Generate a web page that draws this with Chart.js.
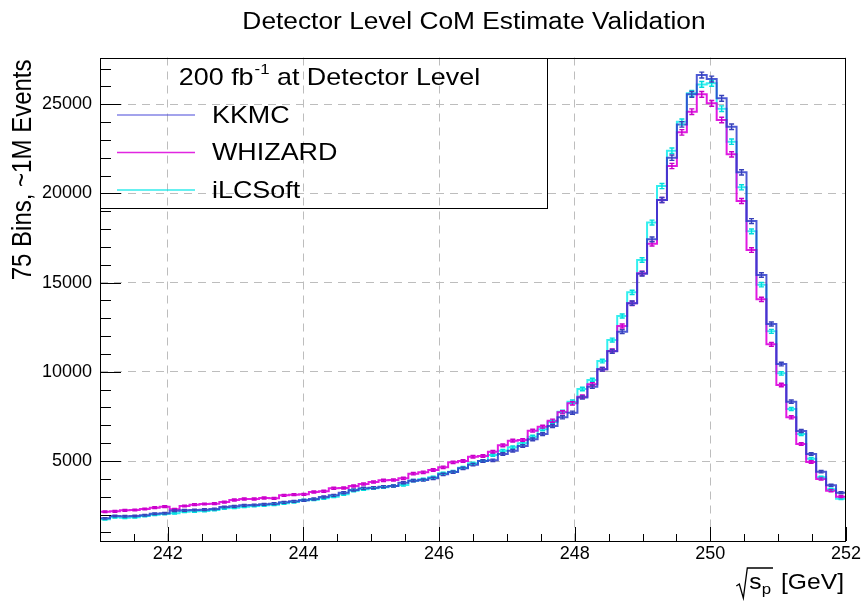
<!DOCTYPE html>
<html><head><meta charset="utf-8">
<script src="https://cdn.jsdelivr.net/npm/chart.js@4.4.1/dist/chart.umd.min.js"></script>
<style>html,body{margin:0;padding:0;background:#fff}#wrap{width:863px;height:601px}</style>
</head><body><div id="wrap"><canvas id="c" width="863" height="601"></canvas></div>
<script>
// ---- binning ----
const X_MIN = 241, X_MAX = 252, N_BINS = 75;
const Y_MIN = 516, Y_MAX = 27620;
// ---- texts ----
const titleText = 'Detector Level CoM Estimate Validation';
const yTitleText = '75 Bins, ~1M Events';
const legendHeader = ['200 fb', '-1', ' at Detector Level'];
const seriesNames = ['KKMC', 'WHIZARD', 'iLCSoft'];
// ---- tick labels ----
const xTickValues = [242, 244, 246, 248, 250, 252];
const yTickValues = [5000, 10000, 15000, 20000, 25000];
// ---- series values (bin contents, 75 bins) ----
const kkmc = [1786,1917,1898,1917,1954,2048,2066,2216,2235,2253,2272,2309,2421,2459,2515,2534,2571,2608,2683,2739,
  2795,2870,2982,3076,3225,3380,3468,3505,3561,3598,3785,3897,3935,4028,4252,4383,4589,4794,5000,5037,
  5392,5579,5841,6215,6513,6962,7447,7709,8560,9167,10150,11150,12250,13850,15500,17427,19630,22003,23871,25553,
  26637,26413,25329,23741,21181,18453,15426,12679,10437,8326,6682,5392,4402,3636,3225];
const whizard = [2160,2178,2234,2253,2309,2384,2440,2291,2478,2552,2590,2609,2702,2814,2870,2870,2926,2907,3075,3113,
  3132,3262,3300,3468,3486,3598,3711,3823,3916,3935,4028,4290,4365,4496,4645,4925,5000,5243,5280,5523,
  5878,6140,6177,6700,6924,7261,7728,8234,8606,9298,10138,11170,12567,13839,15521,17180,19630,21536,23424,24581,
  25553,25049,24114,22190,19574,16827,14062,11540,9260,7448,5953,4944,3991,3337,3001];
const ilcsoft = [1730,1842,1823,1842,1917,1992,2029,2066,2160,2178,2197,2253,2347,2384,2440,2478,2515,2552,2627,2702,
  2800,2833,2907,3001,3132,3337,3412,3468,3524,3598,3655,3897,3972,4084,4308,4402,4626,4869,5000,5336,
  5579,5766,5990,6364,6775,7186,7765,8326,9036,9540,10605,11782,13128,14456,16267,18370,20415,22395,24021,25609,
  26113,26170,24750,22900,20340,17874,14884,12268,9914,7915,6513,5131,4085,3412,2889];

const seriesValues = [kkmc, whizard, ilcsoft];
const lineColors = ['rgba(45,60,205,0.85)', 'rgba(222,0,222,0.9)', 'rgba(0,235,235,0.8)'];
const barColors = ['rgba(55,65,185,1)', 'rgba(200,0,200,1)', 'rgba(0,220,220,1)'];
const legendColors = ['rgba(80,80,220,0.7)', 'rgba(220,0,220,0.85)', 'rgba(0,230,230,0.8)'];

const FONT = '"Liberation Sans", Arial, Helvetica, sans-serif';
const SX = 1.12; // horizontal stretch of the reference's lettering
const binW = (X_MAX - X_MIN) / N_BINS;

function stepData(vals) {
  const pts = vals.map((v, i) => ({ x: X_MIN + i * binW, y: v }));
  pts.push({ x: X_MAX, y: vals[vals.length - 1] });
  return pts;
}

function txt(ctx, s, x, y, size, align, sx) {
  ctx.save();
  ctx.font = size + 'px ' + FONT;
  ctx.textAlign = align || 'left';
  ctx.textBaseline = 'alphabetic';
  ctx.fillStyle = '#000';
  ctx.translate(x, y);
  ctx.scale(sx || SX, 1);
  ctx.fillText(s, 0, 0);
  ctx.restore();
}
function tw(ctx, s, size, sx) {
  ctx.save(); ctx.font = size + 'px ' + FONT;
  const w = ctx.measureText(s).width * (sx || SX);
  ctx.restore(); return w;
}

const errorBars = {
  id: 'errorBars',
  afterDatasetsDraw(chart) {
    const ctx = chart.ctx, xs = chart.scales.x, ys = chart.scales.y, a = chart.chartArea;
    ctx.save();
    ctx.beginPath(); ctx.rect(a.left, a.top, a.right - a.left, a.bottom - a.top); ctx.clip();
    for (let d = seriesValues.length - 1; d >= 0; d--) {
      const vals = seriesValues[d];
      ctx.strokeStyle = barColors[d];
      ctx.lineWidth = 1.4;
      vals.forEach((v, i) => {
        const e = Math.sqrt(v);
        const xc = xs.getPixelForValue(X_MIN + (i + 0.5) * binW);
        const y1 = ys.getPixelForValue(v + e), y2 = ys.getPixelForValue(v - e);
        ctx.beginPath();
        ctx.moveTo(xc, y1); ctx.lineTo(xc, y2);
        ctx.moveTo(xc - 2.5, y1); ctx.lineTo(xc + 2.5, y1);
        ctx.moveTo(xc - 2.5, y2); ctx.lineTo(xc + 2.5, y2);
        ctx.stroke();
      });
    }
    ctx.restore();
  }
};

const decorations = {
  id: 'decorations',
  afterDraw(chart) {
    const ctx = chart.ctx, xs = chart.scales.x, ys = chart.scales.y, a = chart.chartArea;
    ctx.save();
    // frame
    ctx.strokeStyle = '#000'; ctx.lineWidth = 1;
    ctx.strokeRect(Math.round(a.left) + 0.5, Math.round(a.top) + 0.5, Math.round(a.right - a.left) - 1, Math.round(a.bottom - a.top) - 1);
    // ticks (inside), x axis
    ctx.beginPath();
    for (let k = Math.ceil(X_MIN * 2); k <= X_MAX * 2; k++) {
      const v = k / 2;
      const px = Math.round(xs.getPixelForValue(v)) + 0.5;
      const len = (k % 4 === 0) ? 14 : 7;
      ctx.moveTo(px, a.bottom); ctx.lineTo(px, a.bottom - len);
    }
    // y axis ticks
    for (let v = 1000; v <= Y_MAX; v += 1000) {
      if (v < Y_MIN) continue;
      const py = Math.round(ys.getPixelForValue(v)) + 0.5;
      const len = (v % 5000 === 0) ? 21 : 11;
      ctx.moveTo(a.left, py); ctx.lineTo(a.left + len, py);
    }
    ctx.stroke();

    // title
    txt(ctx, titleText, (a.left + a.right) / 2 + 1, 29, 23.5, 'center');

    // y-axis title (rotated)
    ctx.save();
    ctx.translate(31, a.top + 2);
    ctx.rotate(-Math.PI / 2);
    ctx.scale(1, SX);
    ctx.font = '24px ' + FONT; ctx.textAlign = 'right'; ctx.fillStyle = '#000';
    ctx.fillText(yTitleText, 0, 0);
    ctx.restore();

    // x-axis title: sqrt(s_p) [GeV]
    const fs = 22, xr = a.right - 2, base = 589;
    const wG = tw(ctx, '[GeV]', fs);
    txt(ctx, '[GeV]', xr, base, fs, 'right');
    const pR = xr - wG - 10;
    const wP = tw(ctx, 'p', 15);
    txt(ctx, 'p', pR, base + 5, 15, 'right');
    const sR = pR - wP;
    const wS = tw(ctx, 's', fs);
    txt(ctx, 's', sR, base, fs, 'right');
    const sL = sR - wS;
    ctx.beginPath(); ctx.lineWidth = 1.3; ctx.strokeStyle = '#000';
    ctx.moveTo(sL - 13, 586); ctx.lineTo(sL - 10, 584);
    ctx.lineTo(sL - 6, 598); ctx.lineTo(sL - 2, 568);
    ctx.lineTo(pR + 2, 568);
    ctx.stroke();

    // legend (transparent box)
    const L = { x1: a.left, y1: a.top, x2: 547.5, y2: 208.5 };
    ctx.strokeStyle = '#000'; ctx.lineWidth = 1;
    ctx.strokeRect(Math.round(L.x1) + 0.5, Math.round(L.y1) + 0.5, L.x2 - Math.round(L.x1) - 0.5, L.y2 - Math.round(L.y1) - 0.5);
    const hs = 24;
    const w0 = tw(ctx, legendHeader[0], hs), w1 = tw(ctx, legendHeader[1], 15), w2 = tw(ctx, legendHeader[2], hs);
    let hx = 329 - (w0 + w1 + w2) / 2;
    txt(ctx, legendHeader[0], hx, 85, hs, 'left'); hx += w0 + 1;
    txt(ctx, legendHeader[1], hx, 74, 15, 'left'); hx += w1;
    txt(ctx, legendHeader[2], hx, 85, hs, 'left');
    const rows = [115, 152.5, 190];
    seriesNames.forEach((name, i) => {
      ctx.beginPath(); ctx.strokeStyle = legendColors[i]; ctx.lineWidth = 1.5;
      ctx.moveTo(117, rows[i]); ctx.lineTo(195, rows[i]); ctx.stroke();
      txt(ctx, name, 212, rows[i] + 7.5, hs, 'left');
    });
    ctx.restore();
  }
};

new Chart(document.getElementById('c'), {
  type: 'line',
  data: {
    datasets: seriesNames.map((name, i) => ({
      label: name,
      data: stepData(seriesValues[i]),
      stepped: 'before',
      borderColor: lineColors[i],
      borderWidth: 2,
      pointRadius: 0,
      fill: false,
      tension: 0
    }))
  },
  options: {
    responsive: false,
    animation: false,
    devicePixelRatio: 1,
    layout: { padding: { left: 0, right: 17, top: 57.5, bottom: 0 } },
    plugins: { legend: { display: false }, title: { display: false }, tooltip: { enabled: false } },
    scales: {
      x: {
        type: 'linear', min: X_MIN, max: X_MAX,
        afterBuildTicks: s => { s.ticks = xTickValues.map(v => ({ value: v })); },
        afterFit: s => { s.height = 60; },
        grid: { color: '#bdbdbd', lineWidth: 1, drawTicks: false },
        border: { display: false, dash: [8, 6] },
        ticks: { autoSkip: false, maxRotation: 0, padding: 2, color: '#000',
          font: { family: FONT, size: 18 }, callback: v => String(v) }
      },
      y: {
        type: 'linear', min: Y_MIN, max: Y_MAX,
        afterBuildTicks: s => { s.ticks = yTickValues.map(v => ({ value: v })); },
        afterFit: s => { s.width = 100; },
        grid: { color: '#bdbdbd', lineWidth: 1, drawTicks: false },
        border: { display: false, dash: [8, 6] },
        ticks: { padding: 8, color: '#000', font: { family: FONT, size: 18 }, callback: v => String(v) }
      }
    }
  },
  plugins: [errorBars, decorations]
});
</script>
</body></html>
